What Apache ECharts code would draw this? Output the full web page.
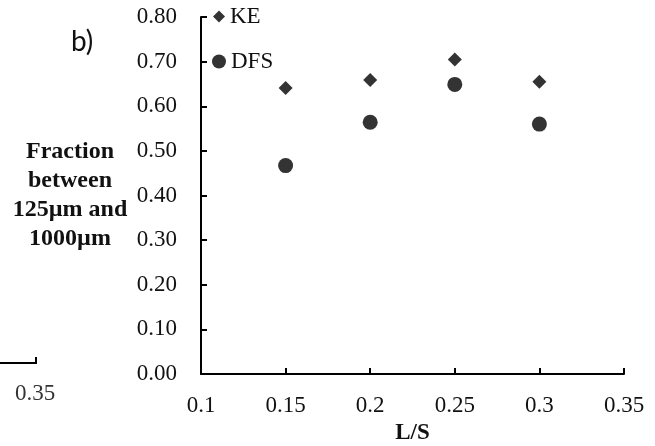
<!DOCTYPE html>
<html>
<head>
    <meta charset="utf-8">
    <title>Fraction vs L/S</title>
    <script src="https://cdn.jsdelivr.net/npm/echarts@6/dist/echarts.min.js"></script>
</head>
<body style="margin:0">
    <div id="main" style="width:655px;height:446px;"></div>
    <script type="text/javascript">
        // data
        var ratios = [0.15, 0.2, 0.25, 0.3];
        var keValues = [0.641, 0.659, 0.705, 0.655];
        var dfsValues = [0.467, 0.564, 0.649, 0.560];
        var xTicks = [0.1, 0.15, 0.2, 0.25, 0.3, 0.35];

        var serif = 'Liberation Serif';
        var myChart = echarts.init(document.getElementById('main'));

        function pairs(xs, ys) {
            return xs.map(function (x, i) { return [x, ys[i]]; });
        }

        var legendText = { fontFamily: serif, fontSize: 23, color: '#111' };

        option = {
            backgroundColor: '#fff',
            animation: false,
            grid: { left: 201, right: 31, top: 17, bottom: 72, outerBoundsMode: 'none' },
            legend: [{
                data: ['KE'], left: 213, top: 5, padding: 0,
                itemWidth: 12, itemHeight: 12, itemGap: 5,
                textStyle: legendText
            }, {
                data: ['DFS'], left: 212, top: 50, padding: 0,
                itemWidth: 14, itemHeight: 14, itemGap: 4,
                textStyle: legendText
            }],
            xAxis: {
                type: 'value', min: 0.1, max: 0.35, interval: 0.05,
                name: 'L/S', nameLocation: 'middle', nameGap: 47,
                nameTextStyle: { fontFamily: serif, fontSize: 23, fontWeight: 'bold', color: '#111' },
                axisLine: { lineStyle: { color: '#000', width: 2 } },
                axisTick: { inside: true, length: 6, lineStyle: { color: '#000', width: 2 } },
                axisLabel: {
                    margin: 20, fontFamily: serif, fontSize: 23, color: '#111',
                    formatter: function (v) { return String(+v.toFixed(2)); }
                },
                splitLine: { show: false }
            },
            yAxis: {
                type: 'value', min: 0, max: 0.8, interval: 0.1,
                name: 'Fraction\nbetween\n125µm and\n1000µm',
                nameLocation: 'middle', nameRotate: 0, nameGap: 131,
                nameTextStyle: {
                    fontFamily: serif, fontSize: 24, fontWeight: 'bold', color: '#111',
                    align: 'center', verticalAlign: 'middle', lineHeight: 29,
                    padding: [17, 0, 0, 0]
                },
                axisLine: { show: true, lineStyle: { color: '#000', width: 2 } },
                axisTick: { show: true, inside: true, length: 6, lineStyle: { color: '#000', width: 2 } },
                axisLabel: {
                    margin: 24, fontFamily: serif, fontSize: 23, color: '#111',
                    formatter: function (v) { return v.toFixed(2); }
                },
                splitLine: { show: false }
            },
            graphic: [
                { type: 'text', left: 71, top: 28, style: { text: 'b)', fontFamily: 'Lato', fontSize: 28, fill: '#111' } },
                { type: 'text', left: 15, top: 382, style: { text: '0.35', fontFamily: serif, fontSize: 23, fill: '#333' } },
                { type: 'polyline', shape: { points: [[0, 363], [36, 363], [36, 357]] }, style: { stroke: '#000', lineWidth: 2, fill: null } }
            ],
            series: [{
                name: 'KE', type: 'scatter', symbol: 'diamond', symbolSize: 14,
                itemStyle: { color: '#000' },
                data: pairs(ratios, keValues)
            }, {
                name: 'DFS', type: 'scatter', symbol: 'circle', symbolSize: 15,
                itemStyle: { color: '#000' },
                data: pairs(ratios, dfsValues)
            }]
        };

        myChart.setOption(option);
    </script>
</body>
</html>
